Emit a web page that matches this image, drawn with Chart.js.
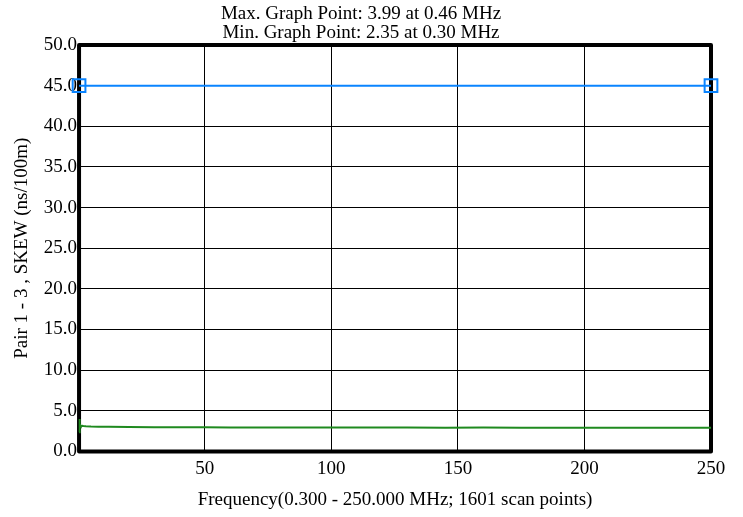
<!DOCTYPE html>
<html lang="en">
<head>
  <meta charset="UTF-8">
  <title>Pair 1 - 3 SKEW</title>
  <style>
    html, body { margin: 0; padding: 0; background: #fff; }
    #wrap { width: 743px; height: 517px; }
  </style>
</head>
<body>
  <div id="wrap"><canvas id="skew-chart" width="743" height="517"></canvas></div>

  <script src="https://cdn.jsdelivr.net/npm/chart.js"></script>
  <script>
    // frequency (MHz) and skew (ns/100m)
    const freqs = [0.30, 0.46, 0.61, 0.77, 1.0, 1.5, 2.0, 3.0, 5.0, 8.0, 12, 20, 30, 40, 50, 60, 75,
                   90, 100, 115, 130, 145, 160, 175, 190, 200, 210, 220, 230, 240, 250];
    const skew = [2.35, 3.99, 3.40, 3.20, 3.12, 3.15, 3.12, 3.08, 3.05, 3.04, 3.02, 3.00, 2.98, 2.97, 2.96,
                  2.95, 2.95, 2.94, 2.94, 2.93, 2.93, 2.92, 2.93, 2.92, 2.92, 2.92, 2.91, 2.92, 2.91, 2.91, 2.92];
    const limitFreqs = [0.30, 250];
    const limitVals = [45, 45];
    const xTicks = [50, 100, 150, 200, 250];
    const titleLines = ['Max. Graph Point: 3.99 at 0.46 MHz', 'Min. Graph Point: 2.35 at 0.30 MHz'];

    // thick black box around the plot, under the data like in the original
    const frame = {
      id: 'frame',
      beforeDatasetsDraw(chart) {
        const a = chart.chartArea, c = chart.ctx;
        c.save();
        c.lineWidth = 4;
        c.lineJoin = 'round';
        c.strokeStyle = '#000';
        c.strokeRect(a.left, a.top, a.right - a.left, a.bottom - a.top);
        c.restore();
      }
    };

    const font = { family: '"Liberation Serif", "Times New Roman", serif', size: 19 };

    new Chart(document.getElementById('skew-chart'), {
      type: 'line',
      data: {
        datasets: [{
          data: limitFreqs.map((f, i) => ({ x: f, y: limitVals[i] })),
          borderColor: '#0a84ff',
          borderWidth: 2,
          pointStyle: 'rect',
          pointRadius: 9,
          pointBorderWidth: 2,
          pointBorderColor: '#0a84ff',
          pointBackgroundColor: 'rgba(0,0,0,0)',
          clip: false
        }, {
          data: freqs.map((f, i) => ({ x: f, y: skew[i] })),
          borderColor: '#1f8a1f',
          borderWidth: 2,
          pointRadius: 0,
          tension: 0,
          clip: 4
        }]
      },
      options: {
        responsive: false,
        animation: false,
        layout: { padding: { left: 11, right: 32, top: 3, bottom: 6 } },
        plugins: {
          legend: { display: false },
          tooltip: { enabled: false },
          title: {
            display: true,
            text: titleLines,
            color: '#000',
            font: { ...font, weight: 'normal', lineHeight: 1.0 },
            padding: { top: 2, bottom: 2 }
          }
        },
        scales: {
          x: {
            type: 'linear',
            min: 0.3,
            max: 250,
            afterBuildTicks: axis => { axis.ticks = xTicks.map(v => ({ value: v })); },
            grid: { color: '#000', lineWidth: 1, drawTicks: false },
            border: { display: false },
            ticks: { color: '#000', font, padding: 6, maxRotation: 0 },
            title: {
              display: true,
              text: 'Frequency(0.300 - 250.000 MHz; 1601 scan points)',
              color: '#000',
              font,
              padding: { top: 2, bottom: 0 }
            }
          },
          y: {
            min: 0,
            max: 50,
            ticks: { stepSize: 5, color: '#000', font, padding: 2, callback: v => v.toFixed(1) },
            grid: { color: '#000', lineWidth: 1, drawTicks: false },
            border: { display: false },
            title: {
              display: true,
              text: 'Pair 1 - 3 , SKEW (ns/100m)',
              color: '#000',
              font,
              padding: { top: 0, bottom: 8 }
            }
          }
        }
      },
      plugins: [frame]
    });
  </script>
</body>
</html>
